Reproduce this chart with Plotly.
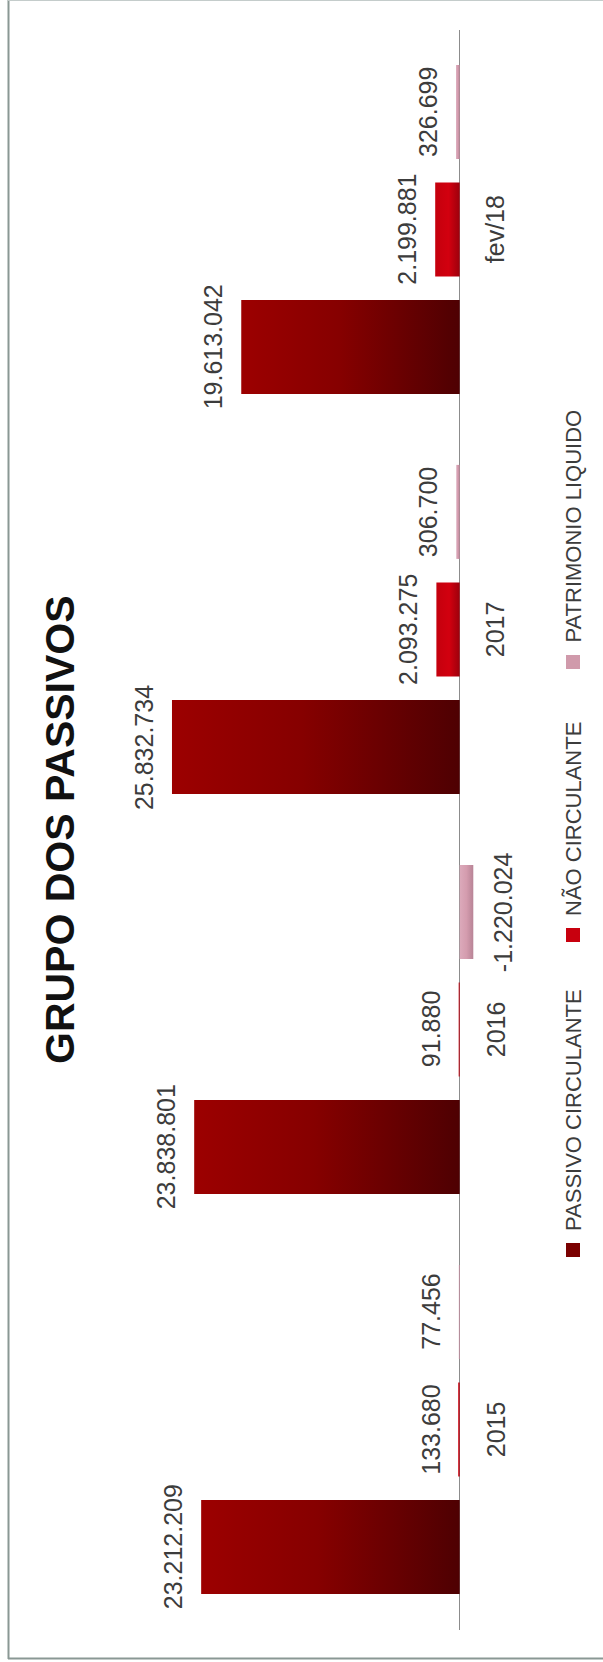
import plotly.graph_objects as go

# ---- data -------------------------------------------------------------
categorias = ["2015", "2016", "2017", "fev/18"]
passivo_circulante = [23212209, 23838801, 25832734, 19613042]
nao_circulante = [133680, 91880, 2093275, 2199881]
patrimonio_liquido = [77456, -1220024, 306700, 326699]

titulo = "GRUPO DOS PASSIVOS"
nomes_series = ["PASSIVO CIRCULANTE", "NÃO CIRCULANTE", "PATRIMONIO LIQUIDO"]

# ---- style ------------------------------------------------------------
W, H = 603, 1662
FONT = "Liberation Sans, Arial, sans-serif"
TXT = "#3c3c3c"

# gradient colour scales (0 = right side of the bar, 1 = left side)
escalas = [
    [[0, "#4e0002"], [0.55, "#860000"], [1, "#9c0000"]],
    [[0, "#9c000c"], [0.45, "#d2000f"], [1, "#c4000d"]],
    [[0, "#b88496"], [0.5, "#d49cae"], [1, "#dcaabb"]],
]
cores_legenda = ["#7a0000", "#c8000e", "#d09aab"]

# position of each series inside a category slot (in category units)
OFFSETS = [-0.294, 0.0, 0.294]
HALF = 0.1175

# vertical pixel window of the category axis
Y_TOP_PX, Y_BOT_PX = 29.5, 1629.5
BASE_PX = 459.7            # pixel column of the zero line
PX_PER_UNIT = 1.1138e-5    # horizontal scale
x_max = BASE_PX / PX_PER_UNIT
x_min = -(W - BASE_PX) / PX_PER_UNIT


def fmt(v):
    return f"{v:,}".replace(",", ".")


fig = go.Figure()
series = [passivo_circulante, nao_circulante, patrimonio_liquido]

for s, valores in enumerate(series):
    for i, v in enumerate(valores):
        yc = i + OFFSETS[s]
        fig.add_trace(go.Scatter(
            x=[0, v, v, 0, 0],
            y=[yc - HALF, yc - HALF, yc + HALF, yc + HALF, yc - HALF],
            mode="lines",
            line=dict(width=0),
            fill="toself",
            fillgradient=dict(
                type="horizontal",
                colorscale=escalas[s],
                start=min(0, v),
                stop=max(0, v),
            ),
            name=nomes_series[s],
            hoverinfo="skip",
            showlegend=False,
        ))
        # value label just beyond the bar end
        fig.add_annotation(
            x=v, y=yc, xref="x", yref="y",
            text=fmt(v), showarrow=False, textangle=-90,
            xanchor="center", yanchor="middle",
            xshift=-28 if v >= 0 else 30,
            font=dict(family=FONT, size=25, color=TXT),
        )

# category labels beside the zero line
for i, c in enumerate(categorias):
    fig.add_annotation(
        x=0, y=i, xref="x", yref="y", text=c, showarrow=False,
        textangle=-90, xanchor="center", yanchor="middle", xshift=36,
        font=dict(family=FONT, size=25, color=TXT),
    )

# title
fig.add_annotation(
    x=60 / W, y=1 - 830 / H, xref="paper", yref="paper",
    text=f"<b>{titulo}</b>", showarrow=False, textangle=-90,
    xanchor="center", yanchor="middle",
    font=dict(family=FONT, size=41, color="#111111"),
)

# legend (markers + rotated names)
leg_marker_top = [1243, 928, 655]
for s, nome in enumerate(nomes_series):
    top = leg_marker_top[s]
    fig.add_shape(
        type="rect", xref="paper", yref="paper",
        x0=566 / W, x1=580 / W, y0=1 - (top + 14) / H, y1=1 - top / H,
        line=dict(width=0), fillcolor=cores_legenda[s],
    )
    fig.add_annotation(
        x=573 / W, y=1 - (top - 10) / H, xref="paper", yref="paper",
        text=nome, showarrow=False, textangle=-90,
        xanchor="center", yanchor="bottom",
        font=dict(family=FONT, size=22, color=TXT),
    )

# frame
frame = "#8a9894"
fig.add_shape(type="line", xref="paper", yref="paper",
              x0=8.5 / W, x1=8.5 / W, y0=1 - 1659 / H, y1=1,
              line=dict(color=frame, width=2))
fig.add_shape(type="line", xref="paper", yref="paper",
              x0=8 / W, x1=1, y0=1 - 1658.5 / H, y1=1 - 1658.5 / H,
              line=dict(color=frame, width=2))
fig.add_shape(type="line", xref="paper", yref="paper",
              x0=8 / W, x1=1, y0=1 - 0.5 / H, y1=1 - 0.5 / H,
              line=dict(color="#c4cccb", width=1))

fig.update_layout(
    width=W, height=H,
    margin=dict(l=0, r=0, t=0, b=0),
    paper_bgcolor="white", plot_bgcolor="white",
    showlegend=False,
    xaxis=dict(
        range=[x_max, x_min], domain=[0, 1],
        showgrid=False, showticklabels=False, ticks="",
        zeroline=True, zerolinecolor="#8c8c8c", zerolinewidth=1,
        fixedrange=True,
    ),
    yaxis=dict(
        range=[-0.5, 3.5],
        domain=[1 - Y_BOT_PX / H, 1 - Y_TOP_PX / H],
        showgrid=False, showticklabels=False, ticks="", zeroline=False,
        fixedrange=True,
    ),
)

fig.write_html("out.html")
